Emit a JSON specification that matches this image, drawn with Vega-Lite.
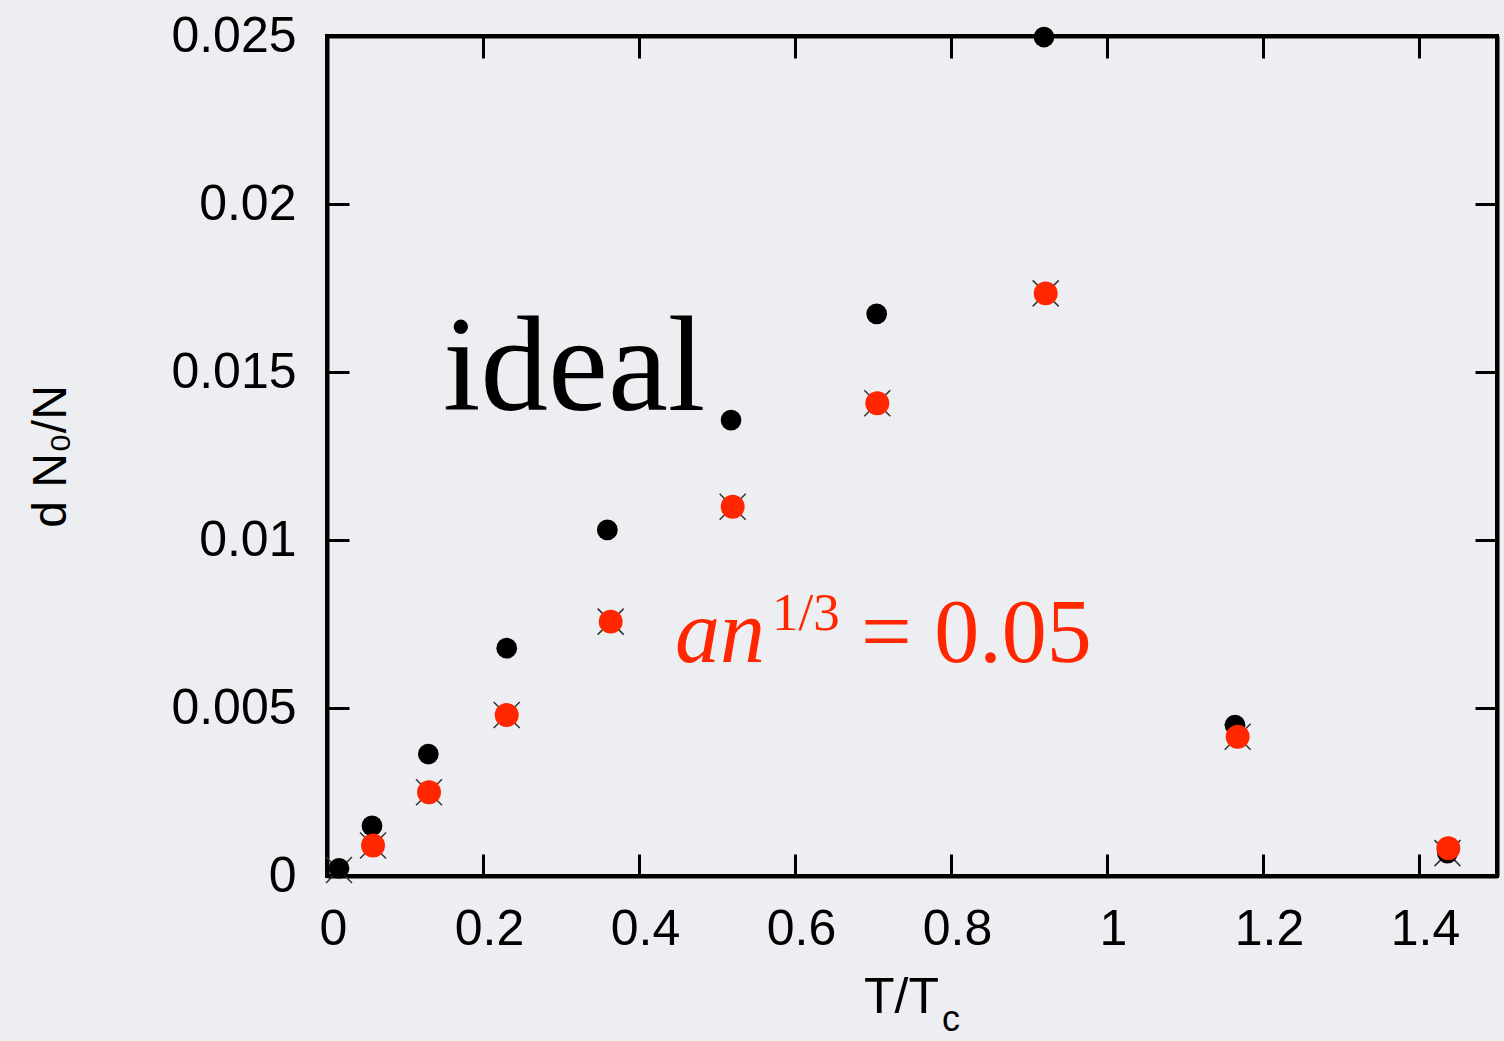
{
  "$schema": "https://vega.github.io/schema/vega-lite/v6.json",
  "width": 1170,
  "height": 840,
  "autosize": "none",
  "padding": {"left": 327, "top": 36, "right": 7, "bottom": 165},
  "background": "#eceef1",
  "config": {
    "view": {"stroke": "black", "strokeWidth": 4, "fill": null},
    "axis": {
      "domainColor": "black", "domainWidth": 4,
      "tickColor": "black", "tickWidth": 3, "tickSize": -22,
      "grid": false,
      "labelFont": "Liberation Sans", "labelFontSize": 50, "labelColor": "black",
      "titleFont": "Liberation Sans", "titleFontSize": 48, "titleFontWeight": "normal", "titleColor": "black"
    }
  },
  "datasets": {
    "black": [
      {"t": 0.0154, "v": 0.00023},
      {"t": 0.0577, "v": 0.00149},
      {"t": 0.1299, "v": 0.00363},
      {"t": 0.2304, "v": 0.00678},
      {"t": 0.3594, "v": 0.0103},
      {"t": 0.518, "v": 0.01357},
      {"t": 0.7047, "v": 0.01673},
      {"t": 0.9192, "v": 0.02497},
      {"t": 1.1641, "v": 0.00449},
      {"t": 1.4365, "v": 0.00068}
    ],
    "red": [
      {"t": 0.059, "v": 0.000908},
      {"t": 0.1308, "v": 0.00249},
      {"t": 0.2304, "v": 0.00479},
      {"t": 0.3637, "v": 0.00757},
      {"t": 0.5201, "v": 0.01099},
      {"t": 0.7055, "v": 0.01407},
      {"t": 0.9214, "v": 0.01734},
      {"t": 1.1675, "v": 0.004146},
      {"t": 1.4376, "v": 0.000824}
    ],
    "cross": [
      {"t": 0.0154, "v": 0.00018},
      {"t": 0.059, "v": 0.000908},
      {"t": 0.1308, "v": 0.00249},
      {"t": 0.2304, "v": 0.00479},
      {"t": 0.3637, "v": 0.00757},
      {"t": 0.5201, "v": 0.01099},
      {"t": 0.7055, "v": 0.01407},
      {"t": 0.9214, "v": 0.01734},
      {"t": 1.1675, "v": 0.004146},
      {"t": 1.4365, "v": 0.00068}
    ]
  },
  "resolve": {"axis": {"x": "independent", "y": "independent"}},
  "layer": [
    {
      "data": {"name": "cross"},
      "mark": {"type": "point", "shape": "M-1,-1L1,1M-1,1L1,-1", "filled": false, "stroke": "#333333", "strokeWidth": 1.5, "size": 676, "opacity": 1},
      "encoding": {
        "x": {"field": "t", "type": "quantitative", "scale": {"domain": [0, 1.5], "nice": false, "zero": false},
          "axis": {"orient": "bottom", "values": [0, 0.2, 0.4, 0.6, 0.8, 1, 1.2, 1.4], "labelExpr": "'' + datum.value", "labelPadding": 50, "labelFlush": false, "labelOffset": 6, "title": null}},
        "y": {"field": "v", "type": "quantitative", "scale": {"domain": [0, 0.025], "nice": false, "zero": false},
          "axis": {"orient": "left", "values": [0, 0.005, 0.01, 0.015, 0.02, 0.025], "labelExpr": "'' + datum.value", "labelPadding": 53, "labelFlush": false, "title": "d N₀/N", "titlePadding": 95}}
      }
    },
    {
      "data": {"name": "black"},
      "mark": {"type": "circle", "color": "black", "size": 430, "opacity": 1},
      "encoding": {
        "x": {"field": "t", "type": "quantitative", "scale": {"domain": [0, 1.5], "nice": false, "zero": false},
          "axis": {"orient": "top", "values": [0, 0.2, 0.4, 0.6, 0.8, 1, 1.2, 1.4], "labels": false, "title": null}},
        "y": {"field": "v", "type": "quantitative", "scale": {"domain": [0, 0.025], "nice": false, "zero": false},
          "axis": {"orient": "right", "values": [0, 0.005, 0.01, 0.015, 0.02, 0.025], "labels": false, "title": null}}
      }
    },
    {
      "data": {"name": "red"},
      "mark": {"type": "circle", "color": "#ff2600", "size": 573, "opacity": 1},
      "encoding": {
        "x": {"field": "t", "type": "quantitative", "scale": {"domain": [0, 1.5], "nice": false, "zero": false}, "axis": null},
        "y": {"field": "v", "type": "quantitative", "scale": {"domain": [0, 0.025], "nice": false, "zero": false}, "axis": null}
      }
    },
    {
      "data": {"values": [{"txt": "ideal", "t": 0.1487, "v": 0.01387}]},
      "mark": {"type": "text", "font": "Liberation Serif", "fontSize": 135, "align": "left", "baseline": "alphabetic", "color": "black"},
      "encoding": {
        "x": {"field": "t", "type": "quantitative", "axis": null},
        "y": {"field": "v", "type": "quantitative", "axis": null},
        "text": {"field": "txt"}
      }
    },
    {
      "data": {"values": [{"txt": "an", "t": 0.4462, "v": 0.006369}]},
      "mark": {"type": "text", "font": "Liberation Serif", "fontStyle": "italic", "fontSize": 90, "align": "left", "baseline": "alphabetic", "color": "#ff2600"},
      "encoding": {
        "x": {"field": "t", "type": "quantitative", "axis": null},
        "y": {"field": "v", "type": "quantitative", "axis": null},
        "text": {"field": "txt"}
      }
    },
    {
      "data": {"values": [{"txt": "1/3", "t": 0.5705, "v": 0.007321}]},
      "mark": {"type": "text", "font": "Liberation Serif", "fontSize": 53, "align": "left", "baseline": "alphabetic", "color": "#ff2600"},
      "encoding": {
        "x": {"field": "t", "type": "quantitative", "axis": null},
        "y": {"field": "v", "type": "quantitative", "axis": null},
        "text": {"field": "txt"}
      }
    },
    {
      "data": {"values": [{"txt": "= 0.05", "t": 0.6846, "v": 0.006369}]},
      "mark": {"type": "text", "font": "Liberation Serif", "fontSize": 90, "align": "left", "baseline": "alphabetic", "color": "#ff2600"},
      "encoding": {
        "x": {"field": "t", "type": "quantitative", "axis": null},
        "y": {"field": "v", "type": "quantitative", "axis": null},
        "text": {"field": "txt"}
      }
    },
    {
      "data": {"values": [{"txt": "T/T", "t": 0.6885, "v": -0.004077}]},
      "mark": {"type": "text", "font": "Liberation Sans", "fontSize": 50, "align": "left", "baseline": "alphabetic", "color": "black"},
      "encoding": {
        "x": {"field": "t", "type": "quantitative", "axis": null},
        "y": {"field": "v", "type": "quantitative", "axis": null},
        "text": {"field": "txt"}
      }
    },
    {
      "data": {"values": [{"txt": "c", "t": 0.7885, "v": -0.00462}]},
      "mark": {"type": "text", "font": "Liberation Sans", "fontSize": 36, "align": "left", "baseline": "alphabetic", "color": "black"},
      "encoding": {
        "x": {"field": "t", "type": "quantitative", "axis": null},
        "y": {"field": "v", "type": "quantitative", "axis": null},
        "text": {"field": "txt"}
      }
    }
  ]
}
